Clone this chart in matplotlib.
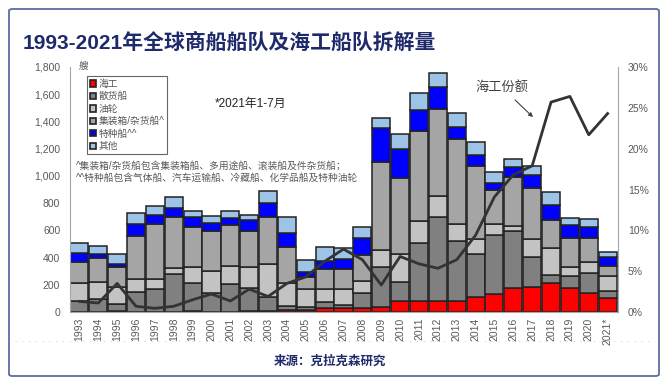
import numpy as np
import matplotlib
matplotlib.use("Agg")
import matplotlib.pyplot as plt
from matplotlib.patches import Patch, FancyBboxPatch
from matplotlib.lines import Line2D

plt.rcParams['font.family'] = ['Liberation Sans', 'Noto Sans CJK SC', 'DejaVu Sans']

# Data (ships scrapped)
years = [str(y) for y in range(1993, 2021)] + ['2021*']
offshore = [0, 0, 8, 0, 0, 0, 5, 3, 0, 10, 8, 15, 15, 27, 27, 27, 35, 83, 83, 83, 83, 110, 135, 174, 181, 215, 174, 137, 100]
bulk = [80, 92, 51, 149, 167, 279, 206, 139, 206, 164, 105, 30, 24, 49, 24, 110, 298, 140, 426, 617, 437, 316, 431, 424, 225, 60, 91, 150, 54]
tanker = [135, 131, 127, 91, 73, 42, 122, 159, 132, 159, 240, 170, 131, 91, 116, 93, 123, 203, 159, 153, 126, 112, 81, 35, 128, 193, 68, 83, 111]
container = [153, 171, 147, 319, 405, 375, 294, 297, 301, 265, 347, 265, 87, 149, 147, 189, 644, 557, 665, 639, 626, 535, 250, 357, 375, 208, 213, 172, 73]
special = [68, 32, 20, 86, 68, 71, 73, 54, 54, 78, 104, 103, 39, 59, 73, 123, 250, 213, 152, 159, 90, 81, 53, 78, 98, 110, 93, 85, 68]
other = [71, 61, 71, 80, 68, 76, 42, 54, 52, 37, 85, 113, 86, 100, 81, 85, 78, 109, 122, 103, 98, 98, 81, 57, 66, 94, 54, 56, 37]
# offshore share, %
share = [1.3, 1.1, 3.5, 0.7, 0.45, 0.7, 1.5, 2.2, 1.35, 2.8, 1.9, 3.5, 4.3, 6.2, 7.7, 6.4, 3.3, 6.8, 5.9, 5.35, 6.4, 9.4, 14.1, 16.8, 17.9, 25.7, 26.4, 21.7, 24.3]

series = [('海工', offshore, '#ff0000'),
          ('散货船', bulk, '#808080'),
          ('油轮', tanker, '#c3c3c3'),
          ('集装箱/杂货船^', container, '#a5a5a5'),
          ('特种船^^', special, '#0000ff'),
          ('其他', other, '#9dc3e6')]

fig = plt.figure(figsize=(6.7, 3.8), dpi=100)
ax = fig.add_axes([70/670, 1-312/380, 548/670, 245/380])

x = np.arange(len(years))
bottom = np.zeros(len(years))
for name, vals, col in series:
    ax.bar(x, vals, bottom=bottom, width=0.96, color=col, edgecolor='#222222', linewidth=1.1, zorder=2)
    bottom += np.array(vals)

ax.set_xlim(-0.5, 28.55)
ax.set_ylim(0, 1800)
ax.set_yticks(range(0, 1801, 200))
ax.set_yticklabels([f'{v:,}' for v in range(0, 1801, 200)])
ax.set_xticks(x)
ax.set_xticklabels(years, rotation=90)
ax.tick_params(axis='both', length=0, labelsize=7.5, colors='#595959')
ax.tick_params(axis='y', pad=7)
ax.tick_params(axis='x', pad=4)
for s in ['top', 'right']:
    ax.spines[s].set_visible(False)
ax.spines['left'].set_color('#a6a6a6')
ax.spines['bottom'].set_color('#a6a6a6')

ax2 = ax.twinx()
ax2.plot(x, share, color='#333333', lw=2, zorder=3)
ax2.set_ylim(0, 30)
ax2.set_yticks(range(0, 31, 5))
ax2.set_yticklabels([f'{v}%' for v in range(0, 31, 5)])
ax2.tick_params(axis='y', length=0, labelsize=7.5, colors='#595959', pad=7)
for s in ['top', 'left', 'bottom']:
    ax2.spines[s].set_visible(False)
ax2.spines['right'].set_color('#a6a6a6')

handles = [Patch(facecolor=c, edgecolor='#222222', linewidth=1.2, label=n) for n, _, c in series]
leg = ax.legend(handles=handles, loc='upper left', bbox_to_anchor=(0.031, 0.963), fontsize=7,
                frameon=True, fancybox=False, edgecolor='#404040', handlelength=0.6, handleheight=0.6,
                handletextpad=0.3, labelspacing=0.25, borderpad=0.3, borderaxespad=0)
leg.get_frame().set_linewidth(0.8)
for t in leg.get_texts():
    t.set_color('#595959')

ax.text(0.016, 1.004, '艘', transform=ax.transAxes, fontsize=7, color='#595959', va='center', ha='left')
ax.text(215/670, 1-104/380, '*2021年1-7月', transform=fig.transFigure, fontsize=8.5, color='#222222', va='center')
ax.text(76/670, 1-166/380, '^集装箱/杂货船包含集装箱船、多用途船、滚装船及件杂货船；', transform=fig.transFigure,
        fontsize=7, color='#595959', va='center')
ax.text(76/670, 1-178/380, '^^特种船包含气体船、汽车运输船、冷藏船、化学品船及特种油轮', transform=fig.transFigure,
        fontsize=7, color='#595959', va='center')

fig.text(475/670, 1-87/380, '海工份额', fontsize=9.5, color='#404040', va='center')
ax2.annotate('', xy=(535/670, 1-119/380), xytext=(513/670, 1-98/380),
             xycoords='figure fraction', textcoords='figure fraction',
             arrowprops=dict(arrowstyle='-|>', color='#404040', lw=0.8, mutation_scale=6))

fig.text(23/670, 1-43/380, '1993-2021年全球商船船队及海工船队拆解量', fontsize=15, fontweight='bold',
         color='#1f2a6b', va='center')
fig.text(330/670, 1-362/380, '来源：克拉克森研究', fontsize=9, fontweight='bold', color='#1f2a6b',
         va='center', ha='center')

frame = FancyBboxPatch((9/670, 4/380), 650/670, 367/380, boxstyle='round,pad=0,rounding_size=0.005',
                       transform=fig.transFigure, fill=False, edgecolor='#5b6e9e', linewidth=1.3)
fig.add_artist(frame)
fig.add_artist(Line2D([15/670, 655/670], [1-341/380, 1-341/380], transform=fig.transFigure,
                      color='#cccccc', lw=0.7, linestyle=(0, (1, 6))))

fig.savefig('out.png', dpi=100)
